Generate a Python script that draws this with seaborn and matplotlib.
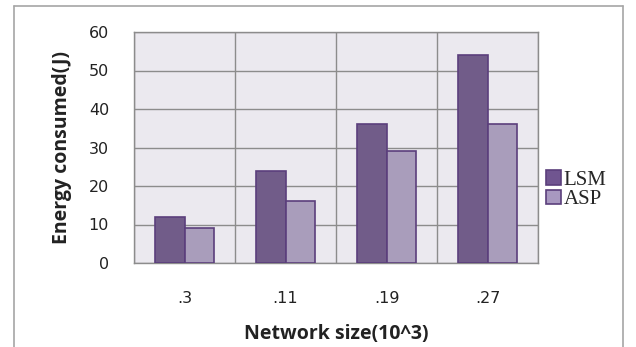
import matplotlib
matplotlib.use("Agg")
import matplotlib.pyplot as plt
from matplotlib.lines import Line2D
from matplotlib.patches import Patch
import seaborn as sns
import pandas as pd

categories = [".3", ".11", ".19", ".27"]
series_names = ["LSM", "ASP"]
lsm_values = [12, 24, 36, 54]
asp_values = [9, 16, 29, 36]
y_ticks = [0, 10, 20, 30, 40, 50, 60]

colors = {"LSM": "#705590", "ASP": "#A898C0"}
edge = "#5B3F7C"

df = pd.DataFrame({
    "size": categories * 2,
    "series": ["LSM"] * len(categories) + ["ASP"] * len(categories),
    "energy": lsm_values + asp_values,
})

sns.set_theme(style="white")
plt.rcParams["font.family"] = ["DejaVu Sans"]

fig = plt.figure(figsize=(6.36, 3.47), dpi=100)
fig.patch.set_facecolor("white")
ax = fig.add_axes([134 / 636, 1 - 263 / 347, (538 - 134) / 636, (263 - 32) / 347])

sns.barplot(data=df, x="size", y="energy", hue="series", order=categories,
            hue_order=series_names, palette=colors, width=0.58, gap=0,
            edgecolor=edge, linewidth=1.2, legend=False, ax=ax, zorder=3)

ax.set_facecolor("#EBE9EF")
ax.set_xlim(-0.5, len(categories) - 0.5)
ax.set_ylim(0, 60)
ax.set_yticks(y_ticks)

# category boundaries for the vertical grid and tick marks
ax.set_xticks([i - 0.5 for i in range(len(categories) + 1)], minor=True)
ax.set_xticks(range(len(categories)))
ax.set_xticklabels(categories)
ax.tick_params(axis="x", which="major", length=0, pad=20, labelsize=11.5, colors="#222222")
ax.tick_params(axis="x", which="minor", length=6, width=1, color="#888888", direction="out")
ax.tick_params(axis="y", length=6, width=1, color="#888888", direction="out",
               pad=12, labelsize=11.5, labelcolor="#222222")

ax.grid(True, axis="y", color="#8C8C8C", linewidth=1, zorder=0)
ax.grid(True, axis="x", which="minor", color="#8C8C8C", linewidth=1, zorder=0)
ax.set_axisbelow(True)
for s in ax.spines.values():
    s.set_color("#8C8C8C")
    s.set_linewidth(1)

ax.set_xlabel("Network size(10^3)", fontsize=14, fontweight="bold",
              family="Open Sans", labelpad=13, color="#222222")
ax.set_ylabel("Energy consumed(J)", fontsize=14, fontweight="bold",
              family="Open Sans", labelpad=12, color="#222222")

handles = [Patch(facecolor=colors[n], edgecolor=edge, linewidth=1.2, label=n)
           for n in series_names]
fig.legend(handles=handles, loc="upper left", bbox_to_anchor=(542 / 636, 1 - 166 / 347),
           frameon=False, prop={"family": "Liberation Serif", "size": 15},
           handlelength=0.7, handleheight=0.7, handletextpad=0.15,
           labelspacing=0.0, borderaxespad=0, borderpad=0.2)

# outer chart frame
frame_kw = dict(color="#A6A6A6", linewidth=1.2, transform=fig.transFigure)
x0, x1, yt = 14 / 636, 623 / 636, 1 - 6 / 347
fig.add_artist(Line2D([x0, x0], [0, yt], **frame_kw))
fig.add_artist(Line2D([x1, x1], [0, yt], **frame_kw))
fig.add_artist(Line2D([x0, x1], [yt, yt], **frame_kw))

fig.savefig("out.png", dpi=100)
